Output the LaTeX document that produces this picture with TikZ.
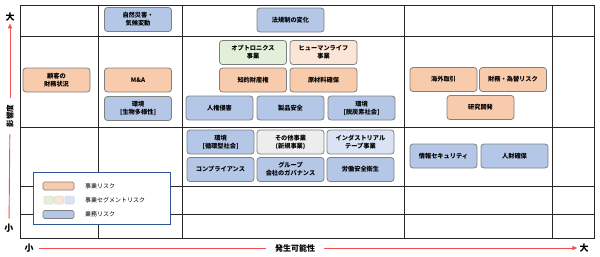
\documentclass[tikz,border=0pt]{standalone}
\usepackage{fontspec}
\setmainfont{Noto Sans CJK JP}
\usetikzlibrary{arrows.meta,positioning}

\definecolor{bizorange}{HTML}{F8CBAD}
\definecolor{opsblue}{HTML}{B4C7E7}
\definecolor{seggreen}{HTML}{E2F0D9}
\definecolor{segpeach}{HTML}{FBE5D6}
\definecolor{seggray}{HTML}{EDEDED}
\definecolor{segblue}{HTML}{DAE3F3}
\definecolor{boxline}{HTML}{7F7F7F}
\definecolor{axisred}{HTML}{F05050}
\definecolor{legline}{HTML}{2F5597}

\begin{document}
\begin{tikzpicture}[
  x=1pt, y=-1pt,
  risk/.style={rectangle, draw=boxline, line width=0.8pt, rounded corners=3pt, minimum width=67pt, minimum height=24pt, inner sep=1pt, align=center, font=\fontsize{6.2}{8}\selectfont\bfseries},
  biz/.style={risk, fill=bizorange},
  ops/.style={risk, fill=opsblue},
  grid line/.style={line width=0.9pt, black!85},
  axis/.style={axisred, line width=0.9pt},
  axislabel/.style={font=\fontsize{9}{9}\selectfont\bfseries, inner sep=1pt},
  swatch/.style={rectangle, draw=boxline, line width=0.7pt, rounded corners=1.5pt, minimum width=31pt, minimum height=8pt, inner sep=0pt},
  segswatch/.style={rectangle, draw=black!15, line width=0.5pt, rounded corners=1.5pt, minimum width=9.5pt, minimum height=8pt, inner sep=0pt},
  legtext/.style={font=\fontsize{6}{7}\selectfont, anchor=west, inner sep=0pt}
]
\useasboundingbox (0,0) rectangle (600,257);

%% Grid
\draw[grid line] (20,5) rectangle (594,238);
\foreach \gx in {98,182,404,552}
  \draw[grid line] (\gx,5) -- (\gx,238);
\foreach \gy in {36,127,186,214}
  \draw[grid line] (20,\gy) -- (594,\gy);

%% Axes
\node[axislabel] (ybig)   at (10,17)  {大};
\node[axislabel] (ysmall) at (9,228)  {小};
\node[axislabel, font=\fontsize{7.5}{7.5}\selectfont\bfseries, rotate=90] (ylabel) at (10,116) {影響度};
\node[axislabel] (xsmall) at (29,248) {小};
\node[axislabel] (xbig)   at (584,248) {大};
\node[axislabel, font=\fontsize{8}{8}\selectfont\bfseries] (xlabel) at (295,248) {発生可能性};

\draw[axis, shorten <=4pt, shorten >=6pt] (ysmall) -- (ylabel);
\draw[axis, -{Triangle[length=5pt,width=4pt]}, shorten <=6pt, shorten >=1pt] (ylabel) -- (ybig);
\draw[axis, shorten <=4pt, shorten >=8pt] (xsmall) -- (xlabel);
\draw[axis, -{Triangle[length=5pt,width=4pt]}, shorten <=8pt, shorten >=1pt] (xlabel) -- (xbig);

%% Column 2
\node[ops] (disaster)  at (138,19.5) {自然災害・\\気候変動};
\node[biz] (customer)  at (56.5,80)  {顧客の\\財務状況};
\node[biz] (manda)     at (138,80)   {M\&A};
\node[ops] (biodiv)    at (138,108.5) {環境\\{[}生物多様性{]}};

%% Column 3
\node[ops] (regulation) at (290.5,20) {法規制の変化};
\node[risk, fill=seggreen] (optro) at (253,52.5) {オプトロニクス\\事業};
\node[risk, fill=segpeach] (human) at (323.5,52.5) {ヒューマンライフ\\事業};
\node[biz] (ip)        at (253,80)    {知的財産権};
\node[biz] (material)  at (323.5,80)  {原材料確保};
\node[ops] (rights)    at (219.5,108) {人権侵害};
\node[ops] (product)   at (290.5,108) {製品安全};
\node[ops] (carbon)    at (361.5,108) {環境\\{[}脱炭素社会{]}};
\node[ops] (circular)  at (220.5,142) {環境\\{[}循環型社会{]}};
\node[risk, fill=seggray] (other) at (290.5,142) {その他事業\\(新規事業)};
\node[risk, fill=segblue] (tape)  at (360.5,142) {インダストリアル\\テープ事業};
\node[ops] (compliance) at (220.5,169.5) {コンプライアンス};
\node[ops] (governance) at (290.5,169.5) {グループ\\会社のガバナンス};
\node[ops] (safety)     at (360.5,169.5) {労働安全衛生};

%% Column 4
\node[biz] (overseas)  at (443.5,79.5) {海外取引};
\node[biz] (currency)  at (513,79.5)   {財務・為替リスク};
\node[biz] (research)  at (480.5,107.5) {研究開発};
\node[ops] (security)  at (443.5,156)  {情報セキュリティ};
\node[ops] (talent)    at (514.5,156)  {人財確保};

%% Legend
\node[draw=legline, line width=0.7pt, fill=white, minimum width=137pt, minimum height=52pt, inner sep=0pt] (legend) at (101.5,198) {};
\node[swatch, fill=bizorange] (legbiz) at (58.5,186) {};
\node[segswatch, fill=seggreen] (legseg1) at (48.5,200) {};
\node[segswatch, fill=segpeach, right=0.5pt of legseg1] (legseg2) {};
\node[segswatch, fill=segblue, right=0.5pt of legseg2] (legseg3) {};
\node[swatch, fill=opsblue] (legops) at (58.5,214.5) {};
\node[legtext] at (85,186)   {事業リスク};
\node[legtext] at (85,200)   {事業セグメントリスク};
\node[legtext] at (85,214.5) {業務リスク};
\end{tikzpicture}
\end{document}
